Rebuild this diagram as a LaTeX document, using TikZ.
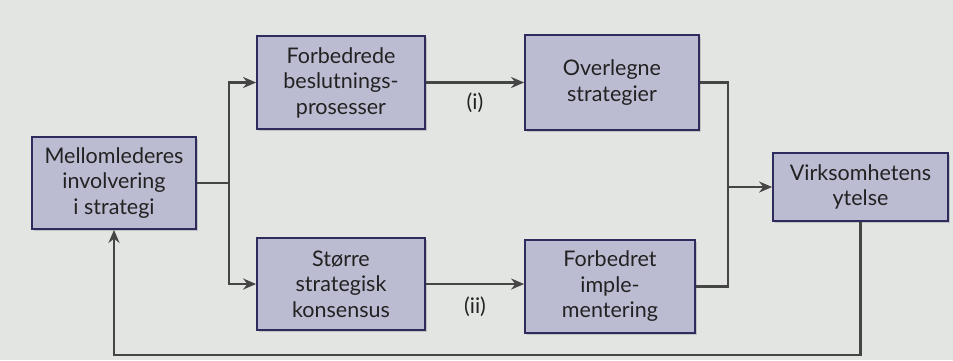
\documentclass[tikz,border=0pt]{standalone}
\usepackage{fontspec}
\setmainfont{Lato}
\usetikzlibrary{arrows.meta,shadows}
\definecolor{bgc}{HTML}{E3E5E3}
\definecolor{boxfill}{HTML}{BBBBD2}
\definecolor{boxline}{HTML}{2E2C5C}
\definecolor{linec}{HTML}{454545}
\definecolor{txt}{HTML}{222222}
\tikzset{
  box/.style={draw=boxline, line width=1.8pt, fill=boxfill, align=center,
    inner sep=0pt, font=\fontsize{21.5}{25.5}\selectfont, text=txt,
    drop shadow={shadow xshift=2pt, shadow yshift=-2pt, opacity=0.35}},
  conn/.style={draw=linec, line width=2.2pt},
  arr/.style={conn, -{Stealth[length=13pt,width=11pt]}},
  lbl/.style={font=\fontsize{21.5}{25.5}\selectfont, text=txt}
}
\begin{document}
\begin{tikzpicture}[x=1pt,y=-1pt]
\fill[bgc] (0,0) rectangle (953,360);
\useasboundingbox (0,0) rectangle (953,360);
\node[box, minimum width=164pt, minimum height=92pt] (m) at (114,183) {Mellomlederes\\involvering\\i strategi};
\node[box, minimum width=168pt, minimum height=93pt] (f) at (341,82.5) {Forbedrede\\beslutnings-\\prosesser};
\node[box, minimum width=168pt, minimum height=92pt] (s) at (341,284) {Større\\strategisk\\konsensus};
\node[box, minimum width=174pt, minimum height=95pt] (o) at (612,82.5) {Overlegne\\strategier};
\node[box, minimum width=170pt, minimum height=93pt] (fi) at (610,286.5) {Forbedret\\imple-\\mentering};
\node[box, minimum width=175pt, minimum height=68pt] (v) at (860.5,187) {Virksomhetens\\ytelse};
\coordinate (j1) at (229,183);
\coordinate (j2) at (728,187);
\coordinate (fb) at (114,355);
\draw[conn] (m.east) -- (j1);
\draw[arr] (j1) |- (f.west);
\draw[arr] (j1) |- (s.west);
\draw[arr] (f.east) -- (o.west) node[lbl, midway, below=6pt] (li) {(i)};
\draw[arr] (s.east) -- (s.east -| fi.west) node[lbl, midway, below=8pt] (lii) {(ii)};
\draw[conn] (o.east) -| (j2);
\draw[conn] (fi.east) -| (j2);
\draw[arr] (j2) -- (j2 -| v.west);
\draw[arr] (v.south) |- (fb) -- (m.south);
\end{tikzpicture}
\end{document}
